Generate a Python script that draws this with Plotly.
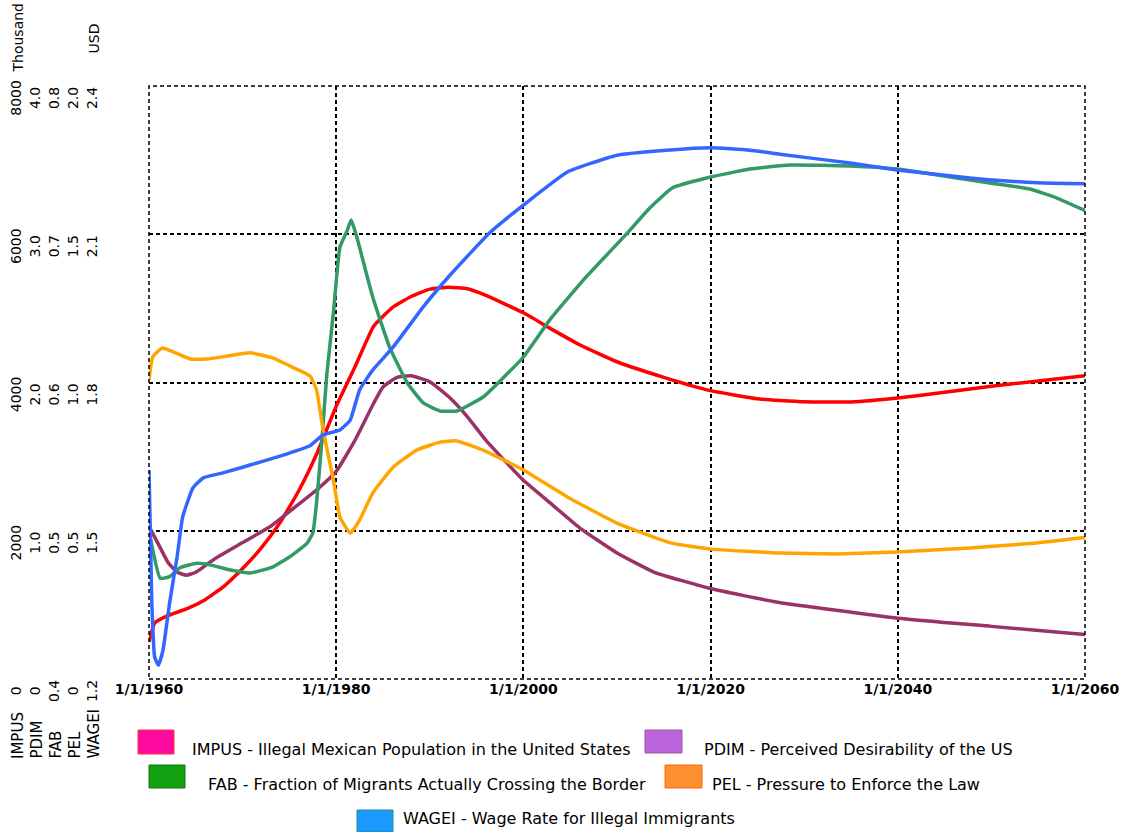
import plotly.graph_objects as go

# ---------------- data ----------------
IMPUS_YEARS = [1960, 1960.6, 1962, 1964, 1966, 1968, 1970, 1972, 1974, 1976, 1978, 1980, 1982,
               1984, 1986, 1988, 1990, 1992, 1994, 1996, 2000, 2003, 2006, 2010, 2015, 2020,
               2025, 2030, 2035, 2040, 2045, 2050, 2055, 2060]
IMPUS_VALUES = [500, 755, 855, 945, 1070, 1250, 1490, 1770, 2110, 2540, 3060, 3680, 4210,
                4760, 5010, 5160, 5260, 5285, 5265, 5175, 4940, 4720, 4510, 4280, 4070, 3890,
                3780, 3740, 3737, 3790, 3870, 3950, 4020, 4090]

PDIM_YEARS = [1960, 1961, 1962, 1963, 1964, 1965, 1967, 1970, 1973, 1976, 1978, 1980, 1982,
              1984, 1985, 1986.5, 1988, 1990, 1992, 1994, 1996, 2000, 2003, 2006, 2010, 2014,
              2020, 2027, 2040, 2050, 2060]
PDIM_VALUES = [1.03, 0.91, 0.79, 0.72, 0.70, 0.72, 0.81, 0.92, 1.03, 1.18, 1.28, 1.40, 1.61,
               1.86, 1.97, 2.035, 2.045, 2.005, 1.905, 1.77, 1.61, 1.34, 1.18, 1.02, 0.85, 0.72,
               0.61, 0.52, 0.41, 0.355, 0.30]

FAB_YEARS = [1960, 1961.2, 1962.2, 1963.3, 1965.1, 1966.5, 1968.7, 1970.8, 1973.2, 1975.3,
             1976.9, 1977.5, 1977.9, 1978.5, 1979.0, 1979.7, 1980.4, 1981.2, 1981.6, 1982.2,
             1983.9, 1985.7, 1987.6, 1989.3, 1991.1, 1992.9, 1995.7, 1997.5, 2000, 2002.8,
             2006.4, 2011.1, 2013.5, 2015.9, 2020, 2024.2, 2028.5, 2034.9, 2039.9, 2047.7,
             2054.1, 2057, 2060]
FAB_VALUES = [0.500, 0.468, 0.469, 0.475, 0.478, 0.477, 0.4735, 0.4715, 0.4755, 0.4836,
              0.4917, 0.4985, 0.5187, 0.5632, 0.6057, 0.6469, 0.6914, 0.7029, 0.7096, 0.6981,
              0.6577, 0.6239, 0.5997, 0.5862, 0.5808, 0.5808, 0.5902, 0.601, 0.6172, 0.6421,
              0.6691, 0.7008, 0.7177, 0.7312, 0.7386, 0.744, 0.7467, 0.746, 0.744, 0.7366,
              0.7305, 0.7244, 0.716]

PEL_YEARS = [1960, 1960.4, 1961.4, 1962.6, 1964.4, 1966.2, 1968.3, 1970.8, 1973.2, 1975.3,
             1977.2, 1977.9, 1978.6, 1979.7, 1980.4, 1981.5, 1982.5, 1983.9, 1986.1, 1988.6,
             1991.1, 1992.9, 1995.7, 2000, 2004.7, 2010, 2015.7, 2020, 2027.4, 2033.5, 2039.9,
             2047.7, 2054.9, 2060]
PEL_VALUES = [1.01, 1.086, 1.116, 1.103, 1.079, 1.079, 1.089, 1.100, 1.083, 1.052,
              1.022, 0.975, 0.840, 0.671, 0.546, 0.492, 0.536, 0.627, 0.715, 0.772,
              0.799, 0.803, 0.772, 0.705, 0.614, 0.526, 0.459, 0.438, 0.425, 0.422, 0.428,
              0.442, 0.459, 0.477]

WAGEI_YEARS = [1960, 1960.3, 1960.6, 1961.0, 1961.5, 1962.2, 1963.0, 1963.6, 1964.7, 1965.8,
               1967.9, 1970.8, 1974.0, 1977.2, 1978.6, 1980.4, 1981.5, 1982.5, 1983.9, 1986.1,
               1989.3, 1992.2, 1996.4, 2000, 2004.7, 2010, 2015.3, 2020, 2024.2, 2027.4, 2034.9,
               2039.9, 2047.7, 2054.9, 2060]
WAGEI_VALUES = [1.623, 1.354, 1.245, 1.228, 1.259, 1.354, 1.447, 1.528, 1.587, 1.607,
                1.617, 1.633, 1.651, 1.672, 1.694, 1.704, 1.724, 1.785, 1.825, 1.872,
                1.953, 2.018, 2.103, 2.159, 2.226, 2.260, 2.270, 2.275, 2.270, 2.262, 2.244,
                2.230, 2.214, 2.204, 2.202]

X_TICKS = [1960, 1980, 2000, 2020, 2040, 2060]
X_TICK_LABELS = ["1/1/1960", "1/1/1980", "1/1/2000", "1/1/2020", "1/1/2040", "1/1/2060"]

IMPUS_TICKS = [0, 2000, 4000, 6000, 8000]
IMPUS_TICK_LABELS = ["0", "2000", "4000", "6000", "8000"]
PDIM_TICKS = [0, 1, 2, 3, 4]
PDIM_TICK_LABELS = ["0", "1.0", "2.0", "3.0", "4.0"]
FAB_TICKS = [0.4, 0.5, 0.6, 0.7, 0.8]
FAB_TICK_LABELS = ["0.4", "0.5", "0.6", "0.7", "0.8"]
PEL_TICKS = [0, 0.5, 1.0, 1.5, 2.0]
PEL_TICK_LABELS = ["0", "0.5", "1.0", "1.5", "2.0"]
WAGEI_TICKS = [1.2, 1.5, 1.8, 2.1, 2.4]
WAGEI_TICK_LABELS = ["1.2", "1.5", "1.8", "2.1", "2.4"]

SERIES_NAMES = ["IMPUS", "PDIM", "FAB", "PEL", "WAGEI"]
LEGEND_TEXTS = [
    "IMPUS - Illegal Mexican Population in the United States",
    "PDIM - Perceived Desirability of the US",
    "FAB - Fraction of Migrants Actually Crossing the Border",
    "PEL - Pressure to Enforce the Law",
    "WAGEI - Wage Rate for Illegal Immigrants",
]
LINE_COLORS = ["#FF0000", "#993366", "#339966", "#FFA500", "#3366FF"]

# ---------------- layout geometry ----------------
W, H = 1127, 832
ML, MR, MT, MB = 0, 42, 86, 153
PW = W - ML - MR   # paper width in px
PH = H - MT - MB   # paper height in px


def px_x(px):
    return (px - ML) / PW


def px_y(py):
    return (H - MB - py) / PH


FONT = "DejaVu Sans"
AXFONT = 14

fig = go.Figure()
axis_ids = ["y", "y2", "y3", "y4", "y5"]
xs = [IMPUS_YEARS, PDIM_YEARS, FAB_YEARS, PEL_YEARS, WAGEI_YEARS]
ys = [IMPUS_VALUES, PDIM_VALUES, FAB_VALUES, PEL_VALUES, WAGEI_VALUES]
for name, xv, yv, col, ax in zip(SERIES_NAMES, xs, ys, LINE_COLORS, axis_ids):
    fig.add_trace(go.Scatter(x=xv, y=yv, name=name, mode="lines", yaxis=ax,
                             line=dict(color=col, width=3.5, shape="spline", smoothing=0.4),
                             showlegend=False, hoverinfo="skip"))

label_centers = [17.5, 36.5, 55.5, 74.5, 93.5]
ranges = [[0, 8000], [0, 4], [0.4, 0.8], [0, 2], [1.2, 2.4]]
tickvals = [IMPUS_TICKS, PDIM_TICKS, FAB_TICKS, PEL_TICKS, WAGEI_TICKS]
ticktexts = [IMPUS_TICK_LABELS, PDIM_TICK_LABELS, FAB_TICK_LABELS, PEL_TICK_LABELS,
             WAGEI_TICK_LABELS]

layout_axes = {}
for i, ax in enumerate(axis_ids):
    key = "yaxis" if ax == "y" else "yaxis" + ax[1:]
    d = dict(range=ranges[i], tickvals=tickvals[i], ticktext=ticktexts[i],
             tickangle=-90, ticklabelshift=14, anchor="free",
             position=px_x(label_centers[i] + 6.5), showline=False, ticks="",
             zeroline=False, tickfont=dict(family=FONT, size=AXFONT, color="black"),
             showgrid=(i == 0), gridcolor="black", gridwidth=1.5, griddash="4px,3px",
             automargin=False, fixedrange=True)
    if i > 0:
        d["overlaying"] = "y"
    layout_axes[key] = d

fig.update_layout(
    width=W, height=H,
    margin=dict(l=ML, r=MR, t=MT, b=MB, pad=0),
    paper_bgcolor="white", plot_bgcolor="white",
    xaxis=dict(domain=[px_x(149), 1], range=[1960, 2060], tickvals=X_TICKS,
               ticktext=X_TICK_LABELS, showgrid=True, gridcolor="black", gridwidth=1.5,
               griddash="4px,3px", zeroline=False, showline=False, ticks="",
               tickfont=dict(family=FONT, size=14, color="black", weight="bold"),
               automargin=False, fixedrange=True),
    **layout_axes,
)

annotations = []
# unit titles
annotations.append(dict(text="Thousand", x=px_x(label_centers[0]), y=px_y(75), xref="paper",
                        yref="paper", textangle=-90, xanchor="center", yanchor="bottom",
                        showarrow=False, font=dict(family=FONT, size=AXFONT, color="black")))
annotations.append(dict(text="USD", x=px_x(label_centers[4]), y=px_y(56), xref="paper",
                        yref="paper", textangle=-90, xanchor="center", yanchor="bottom",
                        showarrow=False, font=dict(family=FONT, size=AXFONT, color="black")))
# series names under axes
for i, name in enumerate(SERIES_NAMES):
    annotations.append(dict(text=name, x=px_x(label_centers[i]), y=px_y(761), xref="paper",
                            yref="paper", textangle=-90, xanchor="center", yanchor="bottom",
                            showarrow=False, font=dict(family=FONT, size=15, color="black")))

# custom legend
swatch_fill = ["#FF0AA0", "#BB66DD", "#10A010", "#FF8F33", "#1A99FF"]
swatch_line = ["#FF3333", "#AA5599", "#117711", "#FF6600", "#2E8B8B"]
swatch_box = [(138, 730, 174, 754), (645, 730, 682, 753), (149, 765, 185, 788),
              (665, 765, 702, 788), (357, 810, 393, 832)]
text_pos = [(190, 749), (702, 749), (206, 784), (710, 784), (401, 818)]
shapes = []
# dashed plot border
shapes.append(dict(type="rect", xref="x domain", yref="y domain", x0=0, x1=1, y0=0, y1=1,
                   line=dict(color="black", width=1.5, dash="4px,3px"), layer="above"))
for i in range(5):
    x0, y0, x1, y1 = swatch_box[i]
    shapes.append(dict(type="rect", xref="paper", yref="paper", x0=px_x(x0), x1=px_x(x1),
                       y0=px_y(y1), y1=px_y(y0), fillcolor=swatch_fill[i],
                       line=dict(color=swatch_line[i], width=1)))
    tx, ty = text_pos[i]
    annotations.append(dict(text=LEGEND_TEXTS[i], x=px_x(tx), y=px_y(ty), xref="paper",
                            yref="paper", xanchor="left", yanchor="middle", showarrow=False,
                            font=dict(family=FONT, size=16, color="black")))

fig.update_layout(annotations=annotations, shapes=shapes)
fig.write_html("out.html", post_script="document.body.style.margin='0';",
               config={"displayModeBar": False})
